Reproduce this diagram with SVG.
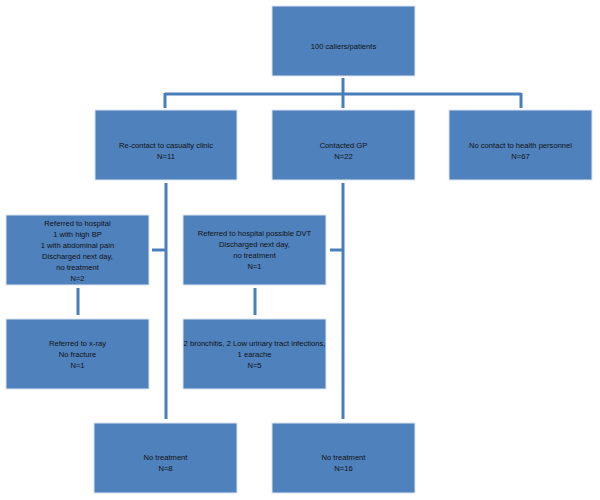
<svg xmlns="http://www.w3.org/2000/svg" width="600" height="500" viewBox="0 0 600 500">
<style>
.box{fill:#4F81BD;stroke:#DCE6F2;stroke-width:1}
.t{font-family:"Liberation Sans",Arial,sans-serif;font-size:7.6px;fill:#111;text-anchor:middle}
.c{stroke:#4A7EBB;stroke-width:3;fill:none}
</style>
<rect width="600" height="500" fill="#fff"/>
<g id="connectors">
<path class="c" d="M343,78 V94 M165,94 H521 M165,93 V108 M343,94 V108 M521,93 V108"/>
<path class="c" d="M166,183 V419 M343,183 V419"/>
<path class="c" d="M152,250 H166 M330,250 H343"/>
<path class="c" d="M78,288 V315 M255,288 V315"/>
</g>
<g id="n_top"><rect class="box" x="272" y="6" width="143" height="70"/><text class="t" x="343.5" y="49">100 callers/patients</text></g>
<g id="n_casualty"><rect class="box" x="95" y="110" width="142" height="70"/><text class="t" x="166" y="148">Re-contact to casualty clinic</text><text class="t" x="166" y="159">N=11</text></g>
<g id="n_gp"><rect class="box" x="272" y="110" width="143" height="70"/><text class="t" x="343.5" y="148">Contacted GP</text><text class="t" x="343.5" y="159">N=22</text></g>
<g id="n_nocontact"><rect class="box" x="449" y="110" width="143" height="70"/><text class="t" x="520.5" y="148">No contact to health personnel</text><text class="t" x="520.5" y="159">N=67</text></g>
<g id="n_hospital1"><rect class="box" x="6" y="215" width="143" height="70"/>
<text class="t" x="77.5" y="225.5">Referred to hospital</text><text class="t" x="77.5" y="236.5">1 with high BP</text><text class="t" x="77.5" y="247.5">1 with abdominal pain</text><text class="t" x="77.5" y="258.5">Discharged next day,</text><text class="t" x="77.5" y="269.5">no treatment</text><text class="t" x="77.5" y="280.5">N=2</text></g>
<g id="n_hospital2"><rect class="box" x="183" y="215" width="143" height="70"/>
<text class="t" x="254.5" y="236">Referred to hospital possible DVT</text><text class="t" x="254.5" y="247">Discharged next day,</text><text class="t" x="254.5" y="258">no treatment</text><text class="t" x="254.5" y="269">N=1</text></g>
<g id="n_xray"><rect class="box" x="6" y="319" width="143" height="70"/>
<text class="t" x="77.5" y="345.5">Referred to x-ray</text><text class="t" x="77.5" y="356.5">No fracture</text><text class="t" x="77.5" y="367.5">N=1</text></g>
<g id="n_bronchitis"><rect class="box" x="183" y="319" width="143" height="70"/>
<text class="t" x="254.5" y="345.5">2 bronchitis, 2 Low urinary tract infections,</text><text class="t" x="254.5" y="356.5">1 earache</text><text class="t" x="254.5" y="367.5">N=5</text></g>
<g id="n_notreat1"><rect class="box" x="94" y="423" width="143" height="70"/>
<text class="t" x="165.5" y="460">No treatment</text><text class="t" x="165.5" y="471">N=8</text></g>
<g id="n_notreat2"><rect class="box" x="272" y="423" width="143" height="70"/>
<text class="t" x="343.5" y="460">No treatment</text><text class="t" x="343.5" y="471">N=16</text></g>
</svg>
